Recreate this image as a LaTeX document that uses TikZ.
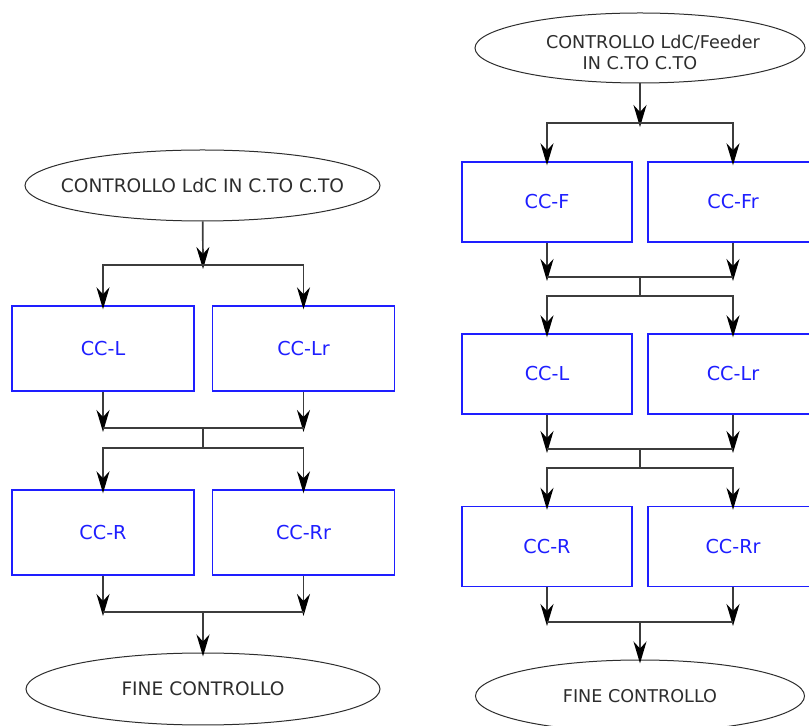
\documentclass[tikz,border=0pt]{standalone}
\usepackage{fontspec}
\setmainfont{DejaVu Sans}
\usepackage{tikz}
\usetikzlibrary{shapes.geometric,arrows.meta}

\definecolor{ccblue}{RGB}{30,30,255}
\definecolor{inkgray}{RGB}{45,45,45}
\definecolor{wiregray}{RGB}{60,60,60}

% text of an oval, kept out of the shape's size
\newcommand{\ovaltext}[1]{\makebox[0pt]{#1}}

\begin{document}
\begin{tikzpicture}[x=0.5pt,y=-0.5pt,
  >={Stealth[length=11pt,width=6.5pt,inset=3.5pt,color=black]},
  oval/.style={ellipse,draw=inkgray,line width=0.5pt,inner sep=0pt,
    text=inkgray,font=\fontsize{9.3}{11}\selectfont},
  ccbox/.style={rectangle,draw=ccblue,line width=0.7pt,inner sep=0pt,
    text=ccblue,minimum width=91pt,minimum height=42.5pt,
    font=\fontsize{9.6}{11}\selectfont},
  ccsmall/.style={ccbox,minimum width=85pt,minimum height=40pt},
  flow/.style={->,draw=wiregray,line width=0.85pt,shorten >=-2pt},
  link/.style={draw=wiregray,line width=0.85pt}]
  \clip (0,0) rectangle (809,726);

  %left column: LdC
  \node[oval,minimum width=177.5pt,minimum height=35.5pt] (lbegin) at (202.5,185.5)
        {\ovaltext{CONTROLLO LdC IN C.TO C.TO}};
  \node[ccbox] (lL)  at (103,348.5)   {CC-L};
  \node[ccbox] (lLr) at (303.5,348.5) {CC-Lr};
  \node[ccbox] (lR)  at (103,532.5)   {CC-R};
  \node[ccbox] (lRr) at (303.5,532.5) {CC-Rr};
  \node[oval,minimum width=177pt,minimum height=36pt] (lend) at (203,689)
        {\ovaltext{FINE CONTROLLO}};

  \coordinate (lfork1) at (203,265);
  \coordinate (ljoin1) at (203,428);
  \coordinate (lfork2) at (203,448);
  \coordinate (ljoin2) at (203,612);

  \draw[flow] (lbegin) -- (lfork1);
  \foreach \n in {lL,lLr}
  \draw[flow] (lfork1) -| (\n);
  \foreach \n in {lL,lLr}
  \draw[flow] (\n) -- (\n |- ljoin1);
  \draw[link] (lL |- ljoin1) -- (lLr |- ljoin1)
              (ljoin1) -- (lfork2);
  \foreach \n in {lR,lRr}
  \draw[flow] (lfork2) -| (\n);
  \foreach \n in {lR,lRr}
  \draw[flow] (\n) -- (\n |- ljoin2);
  \draw[link] (lR |- ljoin2) -- (lRr |- ljoin2);
  \draw[flow] (ljoin2) -- (lend);

  %right column: LdC/Feeder
  \node[oval,minimum width=165pt,minimum height=35pt,
        font=\fontsize{8.8}{10.5}\selectfont] (rbegin) at (640,48)
        {\ovaltext{\raisebox{-5.7pt}[0pt][0pt]{\begin{tabular}{@{}c@{}}\hspace*{13pt}CONTROLLO LdC/Feeder\\
         IN C.TO C.TO\end{tabular}}}};
  \node[ccsmall] (rF)  at (547,202)   {CC-F};
  \node[ccsmall] (rFr) at (733,202)   {CC-Fr};
  \node[ccsmall] (rL)  at (547,374)   {CC-L};
  \node[ccsmall] (rLr) at (733,374)   {CC-Lr};
  \node[ccsmall] (rR)  at (547,546.5) {CC-R};
  \node[ccsmall] (rRr) at (733,546.5) {CC-Rr};
  \node[oval,minimum width=164.5pt,minimum height=36pt,
        font=\fontsize{8.8}{10.5}\selectfont] (rend) at (640,696)
        {\ovaltext{FINE CONTROLLO}};

  \coordinate (rfork1) at (640,123);
  \coordinate (rjoin1) at (640,277);
  \coordinate (rfork2) at (640,296);
  \coordinate (rjoin2) at (640,449);
  \coordinate (rfork3) at (640,468);
  \coordinate (rjoin3) at (640,622);

  \draw[flow] (rbegin) -- (rfork1);
  \foreach \n in {rF,rFr}
  \draw[flow] (rfork1) -| (\n);
  \foreach \n in {rF,rFr}
  \draw[flow] (\n) -- (\n |- rjoin1);
  \draw[link] (rF |- rjoin1) -- (rFr |- rjoin1)
              (rjoin1) -- (rfork2);
  \foreach \n in {rL,rLr}
  \draw[flow] (rfork2) -| (\n);
  \foreach \n in {rL,rLr}
  \draw[flow] (\n) -- (\n |- rjoin2);
  \draw[link] (rL |- rjoin2) -- (rLr |- rjoin2)
              (rjoin2) -- (rfork3);
  \foreach \n in {rR,rRr}
  \draw[flow] (rfork3) -| (\n);
  \foreach \n in {rR,rRr}
  \draw[flow] (\n) -- (\n |- rjoin3);
  \draw[link] (rR |- rjoin3) -- (rRr |- rjoin3);
  \draw[flow] (rjoin3) -- (rend);
\end{tikzpicture}
\end{document}
